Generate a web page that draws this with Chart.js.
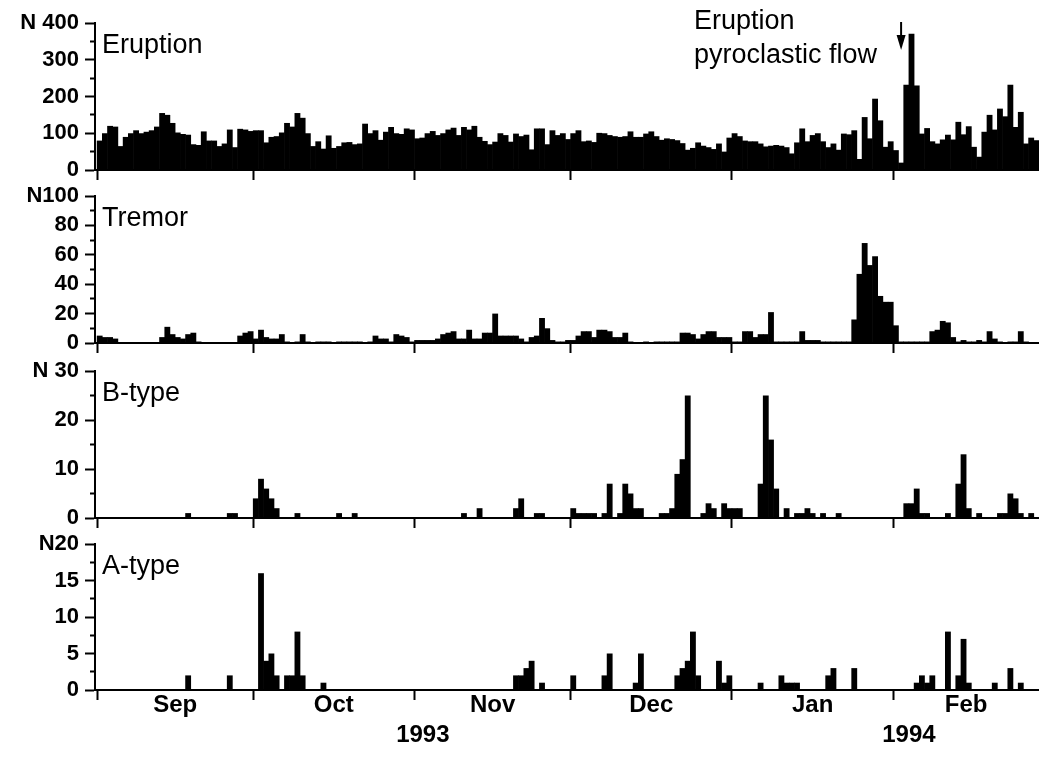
<!DOCTYPE html>
<html>
<head>
<meta charset="utf-8">
<script src="https://cdn.jsdelivr.net/npm/chart.js"></script>
<style>
html, body { margin: 0; padding: 0; background: #fff; }
#wrap { position: relative; width: 1039px; height: 763px; overflow: hidden; }
#wrap canvas { position: absolute; left: 0; top: 0; }
</style>
</head>
<body>
<div id="wrap">
<canvas id="c0" width="1039" height="763"></canvas>
<canvas id="c1" width="1039" height="763"></canvas>
<canvas id="c2" width="1039" height="763"></canvas>
<canvas id="c3" width="1039" height="763"></canvas>
</div>
<script>
// ---------------- data (day 0 = 1 Sep 1993, day 180 = 28 Feb 1994) ----------------
const monthLabels = ['Sep', 'Oct', 'Nov', 'Dec', 'Jan', 'Feb'];
const monthStartDays = [0, 30, 61, 91, 122, 153];
const monthMidDays = [15, 45.5, 76, 106.5, 137.5, 167];
const yearLabels = ['1993', '1994'];
const yearLabelDays = [62.6, 156];
const panelNames = ['Eruption', 'Tremor', 'B-type', 'A-type'];
const panelMax = [400, 100, 30, 20];
const panelMajorStep = [100, 20, 10, 5];
const panelMinorStep = [50, 10, 5, 2.5];
const panelTopLabels = ['N 400', 'N100', 'N 30', 'N20'];
const annotationLines = ['Eruption', 'pyroclastic flow'];
const annotationDay = 154;

const eruption = [
  80,100,120,118,65,90,100,108,100,104,
  108,118,155,150,128,102,98,96,70,68,
  105,80,80,65,72,110,62,112,110,106,
  108,108,75,90,92,102,128,118,155,142,
  100,65,78,58,94,60,65,75,76,70,
  72,126,100,108,82,104,117,100,98,113,
  110,86,88,100,106,95,100,110,115,95,
  117,110,120,90,79,70,77,100,95,77,
  99,92,96,56,113,113,70,108,95,100,
  84,100,108,78,80,76,101,100,95,92,
  90,92,105,90,90,99,105,92,82,86,
  84,81,73,55,60,75,66,62,57,72,
  50,88,100,92,80,78,78,72,64,66,
  68,66,62,45,75,113,78,95,100,78,
  62,72,55,99,97,108,30,144,86,194,
  135,63,78,54,20,232,371,230,99,114,
  78,72,83,96,83,131,97,119,63,36,
  104,150,110,167,146,232,117,158,72,88,
  81
];
const tremor = [
  5,4,4,3,0,0,0,0,0,0,
  0,0,4,11,6,4,3,6,7,1,
  0,0,0,0,0,0,0,5,7,8,
  3,9,4,3,3,6,1,0,1,6,
  1,0,1,1,1,0,1,1,1,1,
  1,0,1,5,3,3,1,6,5,4,
  1,2,2,2,2,3,6,7,8,3,
  3,9,3,3,7,7,20,5,5,5,
  5,3,1,4,5,17,10,2,1,1,
  2,2,5,8,8,4,9,9,8,4,
  4,7,1,0,0,1,0,1,1,1,
  1,1,7,7,6,3,6,8,8,4,
  4,4,1,1,8,8,4,6,6,21,
  1,1,1,1,1,8,2,2,2,1,
  1,1,1,1,1,16,47,68,53,59,
  32,28,28,12,1,1,1,1,1,1,
  8,9,15,14,4,1,2,1,1,2,
  1,8,3,1,0,1,1,8,1,0,
  0
];
const bType = [
  0,0,0,0,0,0,0,0,0,0,
  0,0,0,0,0,0,0,1,0,0,
  0,0,0,0,0,1,1,0,0,0,
  4,8,6,4,2,0,0,0,1,0,
  0,0,0,0,0,0,1,0,0,1,
  0,0,0,0,0,0,0,0,0,0,
  0,0,0,0,0,0,0,0,0,0,
  1,0,0,2,0,0,0,0,0,0,
  2,4,0,0,1,1,0,0,0,0,
  0,2,1,1,1,1,0,1,7,0,
  1,7,5,2,2,0,0,0,1,1,
  2,9,12,25,0,0,1,3,2,0,
  3,2,2,2,0,0,0,7,25,16,
  6,0,2,0,1,1,2,1,0,1,
  0,0,1,0,0,0,0,0,0,0,
  0,0,0,0,0,3,3,6,1,1,
  0,0,0,1,0,7,13,2,0,1,
  0,0,0,1,1,5,4,1,0,1,
  0
];
const aType = [
  0,0,0,0,0,0,0,0,0,0,
  0,0,0,0,0,0,0,2,0,0,
  0,0,0,0,0,2,0,0,0,0,
  0,16,4,5,2,0,2,2,8,2,
  0,0,0,1,0,0,0,0,0,0,
  0,0,0,0,0,0,0,0,0,0,
  0,0,0,0,0,0,0,0,0,0,
  0,0,0,0,0,0,0,0,0,0,
  2,2,3,4,0,1,0,0,0,0,
  0,2,0,0,0,0,0,2,5,0,
  0,0,0,1,5,0,0,0,0,0,
  0,2,3,4,8,2,0,0,0,4,
  1,2,0,0,0,0,0,1,0,0,
  0,2,1,1,1,0,0,0,0,0,
  2,3,0,0,0,3,0,0,0,0,
  0,0,0,0,0,0,0,1,2,1,
  2,0,0,8,0,2,7,1,0,0,
  0,0,1,0,0,3,0,1,0,0,
  0
];
const panelSeries = [eruption, tremor, bType, aType];

// ---------------- layout / style ----------------
const W = 1039, H = 763;
const panelTop = [23, 196, 371, 544];
const panelBottom = [170, 343, 518, 690];
const X_MIN = -0.4, X_MAX = 181;
const FONT = '"Liberation Sans", Arial, Helvetica, sans-serif';
const INK = '#000';

const panelText = {
  id: 'panelText',
  afterDraw(chart, args, opts) {
    const { ctx, chartArea } = chart;
    ctx.save();
    ctx.fillStyle = INK;
    ctx.strokeStyle = INK;
    ctx.font = '27px ' + FONT;
    ctx.textAlign = 'left';
    ctx.textBaseline = 'alphabetic';
    ctx.fillText(opts.name, chartArea.left + 7, chartArea.top + 30);
    if (opts.annotation) {
      const ax = chart.scales.x.getPixelForValue(annotationDay + 0.5);
      ctx.fillText(annotationLines[0], 694, chartArea.top + 6);
      ctx.fillText(annotationLines[1], 694, chartArea.top + 40);
      ctx.lineWidth = 2;
      ctx.beginPath();
      ctx.moveTo(ax, chartArea.top - 1);
      ctx.lineTo(ax, chartArea.top + 16);
      ctx.stroke();
      ctx.beginPath();
      ctx.moveTo(ax - 4.5, chartArea.top + 12);
      ctx.lineTo(ax + 4.5, chartArea.top + 12);
      ctx.lineTo(ax, chartArea.top + 27);
      ctx.closePath();
      ctx.fill();
    }
    ctx.restore();
  }
};

function makePanel(i) {
  const isBottom = i === 3;
  const max = panelMax[i], major = panelMajorStep[i], minor = panelMinorStep[i];
  const isMajor = v => Math.abs(v / major - Math.round(v / major)) < 1e-9;
  const values = panelSeries[i];
  const axisBelow = isBottom ? 70 : 0;

  const scales = {
    x: {
      type: 'linear', axis: 'x', position: 'bottom', weight: 0,
      min: X_MIN, max: X_MAX, offset: false,
      afterBuildTicks: s => { s.ticks = monthStartDays.map(v => ({ value: v })); },
      afterFit: s => { s.height = 0; },
      ticks: { display: false, autoSkip: false },
      grid: { display: true, drawOnChartArea: false, drawTicks: true, offset: false,
              tickLength: 10, tickWidth: 2, tickColor: INK },
      border: { display: true, color: INK, width: 2 }
    },
    y: {
      type: 'linear', position: 'left', min: 0, max: max,
      afterBuildTicks: s => {
        const t = [];
        for (let k = 0; k * minor <= max + 1e-9; k++) t.push({ value: k * minor });
        s.ticks = t;
      },
      afterFit: s => { s.width = 95; },
      ticks: {
        autoSkip: false, padding: 6, color: INK,
        font: { family: FONT, size: 22, weight: 'bold' },
        callback: v => (Math.abs(v - max) < 1e-9 ? panelTopLabels[i] : (isMajor(v) ? String(v) : ''))
      },
      grid: {
        display: true, drawOnChartArea: false, drawTicks: true,
        tickLength: 10, tickWidth: 2, tickColor: INK,
        tickBorderDash: c => (c.tick && !isMajor(c.tick.value) ? [0, 5, 5, 0] : [])
      },
      border: { display: true, color: INK, width: 2 }
    }
  };

  if (isBottom) {
    scales.xm = {
      type: 'linear', axis: 'x', position: 'bottom', weight: 1,
      min: X_MIN, max: X_MAX, offset: false,
      afterBuildTicks: s => { s.ticks = monthMidDays.map(v => ({ value: v })); },
      afterFit: s => { s.height = 30; },
      ticks: { autoSkip: false, maxRotation: 0, padding: -5, color: INK,
               font: { family: FONT, size: 24, weight: 'bold', lineHeight: 1 },
               callback: (v, idx) => monthLabels[idx] },
      grid: { display: false },
      border: { display: false }
    };
    scales.xy = {
      type: 'linear', axis: 'x', position: 'bottom', weight: 2,
      min: X_MIN, max: X_MAX, offset: false,
      afterBuildTicks: s => { s.ticks = yearLabelDays.map(v => ({ value: v })); },
      afterFit: s => { s.height = 40; },
      ticks: { autoSkip: false, maxRotation: 0, padding: -5, color: INK,
               font: { family: FONT, size: 24, weight: 'bold', lineHeight: 1 },
               callback: (v, idx) => yearLabels[idx] },
      grid: { display: false },
      border: { display: false }
    };
  }

  return new Chart(document.getElementById('c' + i), {
    type: 'bar',
    data: {
      datasets: [{
        label: panelNames[i],
        data: values.map((v, d) => ({ x: d + 0.5, y: v })),
        backgroundColor: INK,
        borderWidth: 0,
        barPercentage: 1.12,
        categoryPercentage: 1.0,
        xAxisID: 'x',
        yAxisID: 'y'
      }]
    },
    options: {
      responsive: false,
      animation: false,
      devicePixelRatio: 1,
      layout: { padding: { top: panelTop[i], bottom: H - panelBottom[i] - axisBelow, left: 0, right: 0 } },
      plugins: {
        legend: { display: false },
        tooltip: { enabled: false },
        title: { display: false },
        panelText: { name: panelNames[i], annotation: i === 0 }
      },
      scales: scales
    },
    plugins: [panelText]
  });
}

for (let i = 0; i < 4; i++) makePanel(i);
</script>
</body>
</html>
